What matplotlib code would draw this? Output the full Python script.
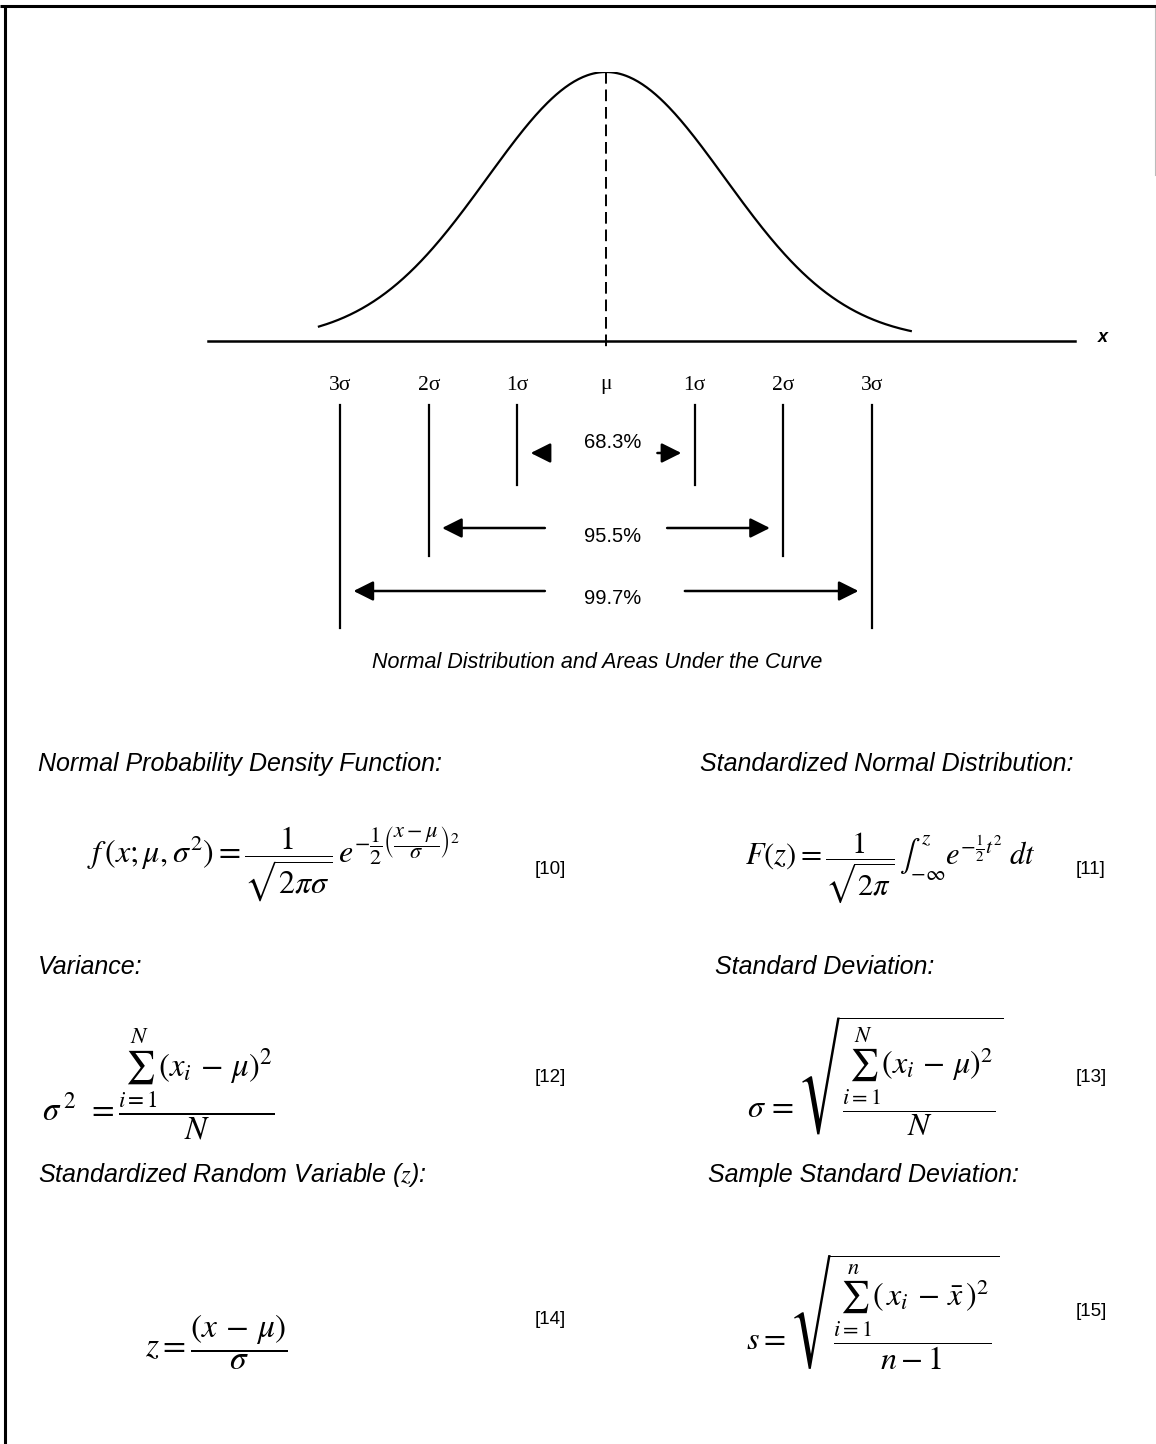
import numpy as np
import matplotlib
matplotlib.use("Agg")
import matplotlib.pyplot as plt
import matplotlib.transforms as mtransforms

plt.rcParams['mathtext.fontset'] = 'stix'

# Data: sigma marks under the curve and the areas between them
sigma_offsets = [-3, -2, -1, 0, 1, 2, 3]
sigma_labels = ['3σ', '2σ', '1σ', 'μ', '1σ', '2σ', '3σ']
area_levels = [1, 2, 3]
area_labels = ['68.3%', '95.5%', '99.7%']
curve_spread = 1.34  # drawn curve is wider than the marked sigma lines

# Formula panels: header, formula, equation number
headers_left = ['Normal Probability Density Function:', 'Variance:',
                'Standardized Random Variable ($z$):']
headers_right = ['Standardized Normal Distribution:', 'Standard Deviation:',
                 'Sample Standard Deviation:']
formulas = [
    r'$f\,(x;\mu,\sigma^{2}) = \dfrac{1}{\sqrt{2\pi\sigma}}\,e^{-\dfrac{1}{2}\left(\dfrac{x-\mu}{\sigma}\right)^{2}}$',
    r'$F(z) = \dfrac{1}{\sqrt{2\pi}}\,\int_{-\infty}^{z} e^{-\frac{1}{2}t^{2}}\;dt$',
    r'$\sigma^{\,2}\;\, = \dfrac{\sum_{i=1}^{N}(x_i\,-\,\mu)^{2}}{N}$',
    r'$\sigma\, = \sqrt{\dfrac{\sum_{i=1}^{N}(x_i\,-\,\mu)^{2}}{N}}$',
    r'$z = \dfrac{(x\,-\,\mu)}{\sigma}$',
    r'$s = \sqrt{\dfrac{\sum_{i=1}^{n}(\,x_i\,-\,\bar{x}\,)^{2}}{n-1}}$',
]
eq_numbers = ['[10]', '[11]', '[12]', '[13]', '[14]', '[15]']

W, H = 1156, 1444
fig = plt.figure(figsize=(W / 100, H / 100), dpi=100)
fig.patch.set_facecolor('white')

# full page axes in pixel coordinates
ax = fig.add_axes([0, 0, 1, 1])
ax.set_xlim(0, W)
ax.set_ylim(H, 0)
ax.axis('off')

# curve axes: x in sigma units, y in relative height
mu_px, sig_px = 606, 88.6
base_px, peak_px = 341, 72
cv = fig.add_axes([0, (H - base_px) / H, 1, (base_px - peak_px) / H])
cv.set_xlim(-mu_px / sig_px, (W - mu_px) / sig_px)
cv.set_ylim(0, 1)
cv.axis('off')

# page border
ax.plot([0, W], [6, 6], color='black', lw=2.2, solid_capstyle='butt')
ax.plot([5, 5], [6, H], color='black', lw=2.2, solid_capstyle='butt')
ax.plot([1155, 1155], [8, 175], color='#bbbbbb', lw=0.8)

# bell curve
x = np.linspace(-3.24, 3.44, 400)
y = np.exp(-0.5 * (x / curve_spread) ** 2)
cv.plot(x, y, color='black', lw=1.6)

# x axis line and label
mix = mtransforms.blended_transform_factory(cv.transData, ax.transData)
ax.plot([(208 - mu_px) / sig_px, (1075 - mu_px) / sig_px], [base_px, base_px],
        color='black', lw=1.8, transform=mix)
ax.text(1103, 338, 'x', fontsize=13, fontweight='bold', style='italic',
        family='Liberation Sans', ha='center', va='center')

# dashed mean line
ax.plot([0, 0], [peak_px, 350], color='black', lw=1.4, ls=(0, (6, 3)), transform=mix)

# sigma labels and marker lines
line_bottom = {1: 485, 2: 556, 3: 628}
for off, lab in zip(sigma_offsets, sigma_labels):
    ax.text(off, 385, lab, transform=mix, ha='center', va='center',
            fontsize=15.5, family='Liberation Serif')
    if off != 0:
        ax.plot([off, off], [405, line_bottom[abs(off)]], color='black', lw=1.6,
                transform=mix)

# area arrows
row_y = {1: 453, 2: 528, 3: 591}
text_y = {1: 443, 2: 536, 3: 598}
gap_left = {1: 0.65, 2: 0.69, 3: 0.69}
gap_right = {1: 0.58, 2: 0.69, 3: 0.89}
for k, lab in zip(area_levels, area_labels):
    tip = k - 0.15
    style = dict(arrowstyle='-|>,head_length=0.6,head_width=0.3', color='black',
                 lw=1.8, shrinkA=0, shrinkB=0, mutation_scale=20)
    ax.annotate('', xy=(-tip, row_y[k]), xytext=(-gap_left[k], row_y[k]),
                xycoords=mix, textcoords=mix, arrowprops=style)
    ax.annotate('', xy=(tip, row_y[k]), xytext=(gap_right[k], row_y[k]),
                xycoords=mix, textcoords=mix, arrowprops=style)
    ax.text(0.07, text_y[k], lab, transform=mix, ha='center', va='center',
            fontsize=14.5, family='Liberation Sans')

ax.text(597, 662, 'Normal Distribution and Areas Under the Curve', ha='center',
        va='center', fontsize=15.5, style='italic', family='Liberation Sans')

# headers
head_y = [764, 967, 1175]
right_x = [700, 715, 708]
for yy, hl, hr, rx in zip(head_y, headers_left, headers_right, right_x):
    ax.text(38, yy, hl, ha='left', va='center', fontsize=18, style='italic',
            family='Liberation Sans')
    ax.text(rx, yy, hr, ha='left', va='center', fontsize=18, style='italic',
            family='Liberation Sans')

# formulas and equation numbers
form_pos = [(273, 864), (890, 868), (158, 1084), (875, 1076), (216, 1342), (873, 1312)]
form_size = [23, 22, 23.5, 23, 24, 23]
num_pos = [(550, 870), (1091, 870), (550, 1077), (1091, 1078), (550, 1319), (1091, 1311)]
for f, (fx, fy), fs in zip(formulas, form_pos, form_size):
    ax.text(fx, fy, f, ha='center', va='center', fontsize=fs)
for n, (nx, ny) in zip(eq_numbers, num_pos):
    ax.text(nx, ny, n, ha='center', va='center', fontsize=13.5,
            family='Liberation Sans')

fig.savefig('out.png', dpi=100, facecolor='white')
